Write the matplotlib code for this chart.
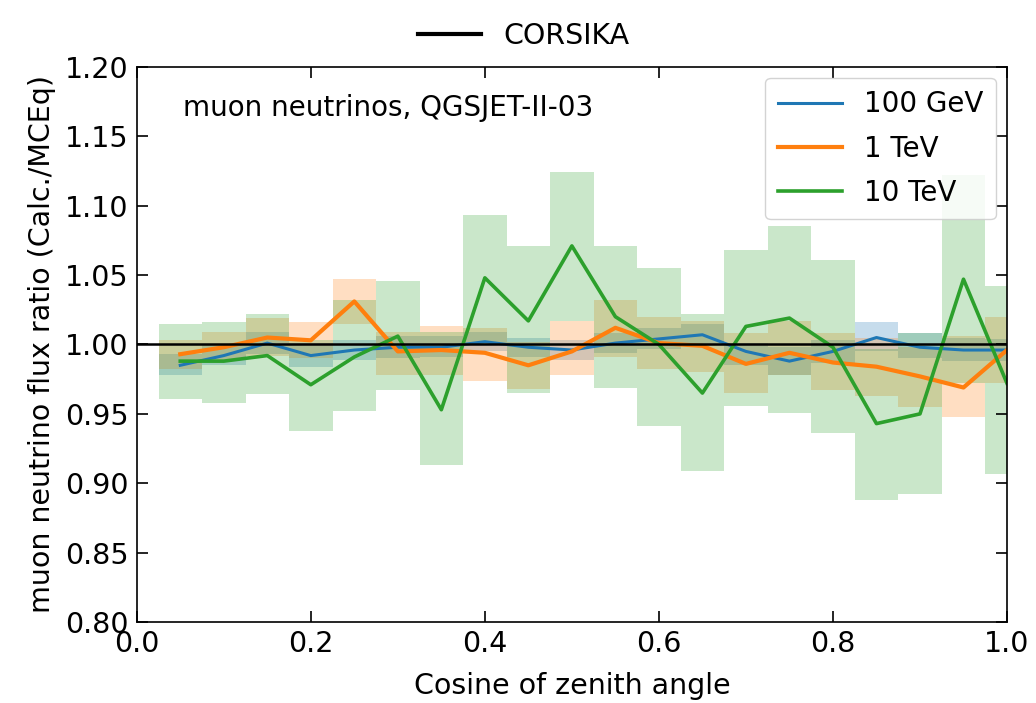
import matplotlib
matplotlib.use("Agg")
import matplotlib.pyplot as plt
import numpy as np

# Bin centres in cos(zenith)
cos_zenith = [0.05, 0.10, 0.15, 0.20, 0.25, 0.30, 0.35, 0.40, 0.45, 0.50,
              0.55, 0.60, 0.65, 0.70, 0.75, 0.80, 0.85, 0.90, 0.95, 1.00]
bin_width = 0.05

# Flux ratios Calc./MCEq
ratio_100GeV = [0.985, 0.992, 1.001, 0.992, 0.996, 0.998, 0.998, 1.002, 0.998, 0.996,
                1.001, 1.004, 1.007, 0.995, 0.988, 0.995, 1.005, 0.998, 0.996, 0.996]
ratio_1TeV = [0.993, 0.998, 1.005, 1.003, 1.031, 0.995, 0.996, 0.994, 0.985, 0.995,
              1.012, 1.001, 0.999, 0.986, 0.994, 0.987, 0.984, 0.977, 0.969, 0.996]
ratio_10TeV = [0.988, 0.988, 0.992, 0.971, 0.991, 1.006, 0.953, 1.048, 1.017, 1.071,
               1.020, 1.000, 0.965, 1.013, 1.019, 0.998, 0.943, 0.950, 1.047, 0.972]

# Uncertainty bands (lower, upper)
low_100GeV = [0.978, 0.985, 0.993, 0.984, 0.989, 0.990, 0.991, 0.995, 0.991, 0.989,
              0.994, 0.997, 1.000, 0.985, 0.978, 0.987, 0.995, 0.990, 0.988, 0.988]
high_100GeV = [0.993, 1.000, 1.009, 1.001, 1.003, 1.006, 1.006, 1.009, 1.005, 1.003,
               1.008, 1.012, 1.015, 1.001, 0.998, 1.003, 1.016, 1.008, 1.005, 1.004]
low_1TeV = [0.982, 0.989, 0.992, 0.990, 1.015, 0.978, 0.978, 0.974, 0.968, 0.978,
            0.991, 0.982, 0.980, 0.965, 0.978, 0.967, 0.963, 0.955, 0.948, 0.972]
high_1TeV = [1.003, 1.009, 1.019, 1.016, 1.047, 1.009, 1.013, 1.012, 1.002, 1.017,
             1.032, 1.020, 1.017, 1.008, 1.017, 1.008, 1.005, 0.998, 1.006, 1.020]
low_10TeV = [0.961, 0.958, 0.964, 0.938, 0.952, 0.967, 0.913, 1.000, 0.965, 1.017,
             0.969, 0.941, 0.909, 0.956, 0.951, 0.936, 0.888, 0.892, 0.972, 0.907]
high_10TeV = [1.015, 1.016, 1.022, 1.003, 1.032, 1.046, 1.009, 1.093, 1.071, 1.124,
              1.071, 1.055, 1.022, 1.068, 1.085, 1.061, 0.997, 1.008, 1.122, 1.042]

series = [
    ("100 GeV", ratio_100GeV, low_100GeV, high_100GeV, "C0", 2.2),
    ("1 TeV", ratio_1TeV, low_1TeV, high_1TeV, "C1", 3.0),
    ("10 TeV", ratio_10TeV, low_10TeV, high_10TeV, "C2", 2.6),
]

plt.rcParams["font.family"] = ["DejaVu Sans"]
fig = plt.figure(figsize=(10.36, 7.03), dpi=100)
ax = fig.add_axes([0.132, 0.115, 0.840, 0.790])

x = np.array(cos_zenith)
for label, ratio, lo, hi, color, lw in series:
    lo = np.array(lo)
    hi = np.array(hi)
    ax.bar(x, hi - lo, width=bin_width, bottom=lo, color=color, alpha=0.25,
           linewidth=0, align="center")
    ax.plot(x, ratio, color=color, lw=lw, label=label)

ax.axhline(1.0, color="black", lw=1.8)

ax.set_xlim(0.0, 1.0)
ax.set_ylim(0.80, 1.20)
xt = np.arange(0.0, 1.01, 0.2)
yt = np.arange(0.80, 1.201, 0.05)
ax.set_xticks(xt)
ax.set_yticks(yt)
ax.set_xticklabels([f"{v:.1f}" for v in xt])
ax.set_yticklabels([f"{v:.2f}" for v in yt])
ax.tick_params(direction="in", top=True, right=True, length=8, width=1.2,
               labelsize=20.5, pad=6)
for s in ax.spines.values():
    s.set_linewidth(1.2)

ax.set_xlabel("Cosine of zenith angle", fontsize=20.5, labelpad=10)
ax.set_ylabel("muon neutrino flux ratio (Calc./MCEq)", fontsize=20.5, labelpad=6)

ax.text(0.053, 0.926, "muon neutrinos, QGSJET-II-03", transform=ax.transAxes,
        fontsize=20, va="center", ha="left")

ax.legend(loc="upper right", fontsize=20, handlelength=2.3, borderpad=0.45,
          labelspacing=0.58, handletextpad=0.8, framealpha=0.85,
          borderaxespad=0.4)

fig.legend([plt.Line2D([], [], color="black", lw=3)], ["CORSIKA"],
           loc="upper center", bbox_to_anchor=(0.506, 1.005), frameon=False,
           fontsize=20.5, handlelength=2.2)

fig.savefig("out.png", dpi=100)
